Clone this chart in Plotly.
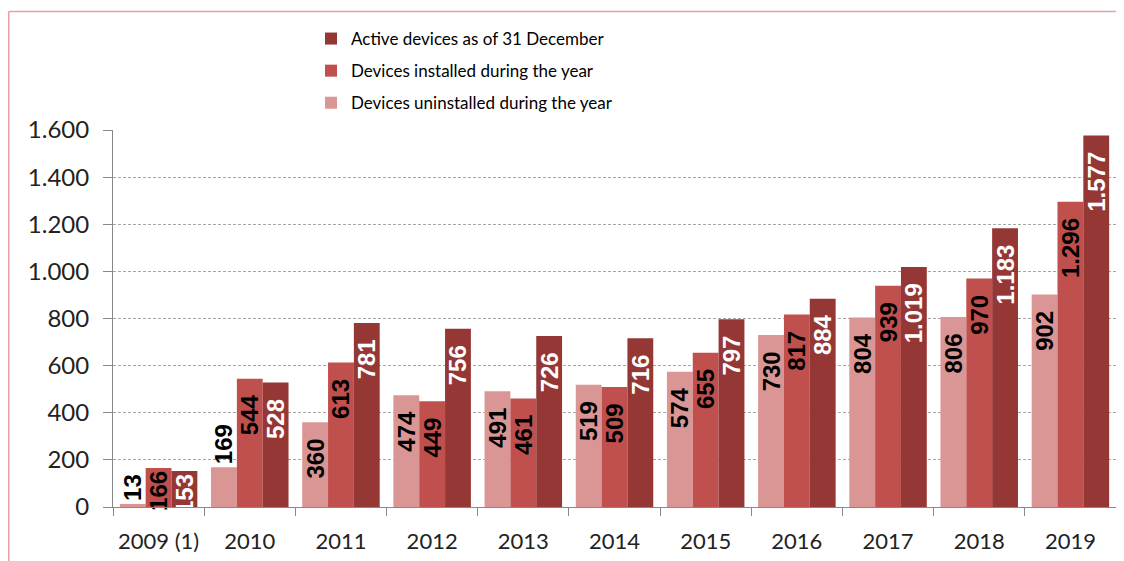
import plotly.graph_objects as go

years = ["2009 (1)", "2010", "2011", "2012", "2013", "2014", "2015", "2016", "2017", "2018", "2019"]
uninstalled = [13, 169, 360, 474, 491, 519, 574, 730, 804, 806, 902]
installed = [166, 544, 613, 449, 461, 509, 655, 817, 939, 970, 1296]
active = [153, 528, 781, 756, 726, 716, 797, 884, 1019, 1183, 1577]

names = ["Devices uninstalled during the year", "Devices installed during the year", "Active devices as of 31 December"]
colors = ["#D99694", "#C0504D", "#953735"]
text_colors = ["black", "black", "white"]
legend_ranks = [3, 2, 1]
series = [uninstalled, installed, active]

# page body adds an 8px offset; figure sized to fill the rest of the window
W, H = 1116, 553
L, R, T, B = 105, 8, 122, 54
pw, ph = W - L - R, H - T - B

fig = go.Figure()
for i, (vals, name, col, tcol, rk) in enumerate(zip(series, names, colors, text_colors, legend_ranks)):
    pos, tmpl = [], []
    for v in vals:
        if i == 0 and v < 200:
            pos.append("outside")
        else:
            pos.append("inside")
        tmpl.append("%{y:,d}\u00a0\u00a0" if v >= 300 else "%{y:,d}")
    fnt = dict(family="Liberation Sans", size=24, color=tcol, weight="bold")
    fig.add_trace(go.Bar(
        x=years, y=vals, name=name, marker=dict(color=col, line=dict(width=0)),
        texttemplate=tmpl, textposition=pos, textangle=-90,
        insidetextanchor="end", constraintext="none", cliponaxis=False,
        textfont=fnt,
        outsidetextfont=dict(family="Liberation Sans", size=24, color="black", weight="bold"),
        insidetextfont=fnt,
        legendgroup=str(i), legendrank=rk,
    ))

border = "#E8A0A0"
x_left = (0.75 - L) / pw
y_top = (H - B - 3.5) / ph
fig.add_shape(type="line", xref="paper", yref="paper", x0=x_left, x1=(W - L) / pw + 0.02,
              y0=y_top, y1=y_top, line=dict(color=border, width=1.5))
fig.add_shape(type="line", xref="paper", yref="paper", x0=x_left, x1=x_left,
              y0=y_top, y1=-B / ph - 0.05, line=dict(color=border, width=1.5))

fig.update_layout(
    width=W, height=H,
    margin=dict(l=L, r=R, t=T, b=B, autoexpand=False),
    paper_bgcolor="white", plot_bgcolor="white",
    separators=",.",
    barmode="group", bargap=0.15, bargroupgap=0,
    font=dict(family="Lato", color="#222"),
    showlegend=True,
    legend=dict(x=(303 - L) / pw, xanchor="left", y=(H - B - 13) / ph, yanchor="top",
                traceorder="grouped", tracegroupgap=7,
                font=dict(family="Lato", size=17, color="black"), bgcolor="rgba(0,0,0,0)"),
    xaxis=dict(showline=True, linecolor="#888", linewidth=1, ticks="outside", ticklen=8,
               tickcolor="#888", tickson="boundaries", tickangle=0, automargin=False,
               ticklabelstandoff=15,
               tickfont=dict(family="Lato", size=22, color="#222"), showgrid=False),
    yaxis=dict(range=[0, 1600], dtick=200, tickformat=",d", showline=True, linecolor="#888",
               linewidth=1, ticks="outside", ticklen=9, tickcolor="#888", automargin=False,
               ticklabelstandoff=9,
               showgrid=True, gridcolor="#A6A6A6", griddash="3px,2px", gridwidth=1,
               zeroline=False, tickfont=dict(family="Lato", size=24, color="#222")),
)

fig.write_html("out.html")
